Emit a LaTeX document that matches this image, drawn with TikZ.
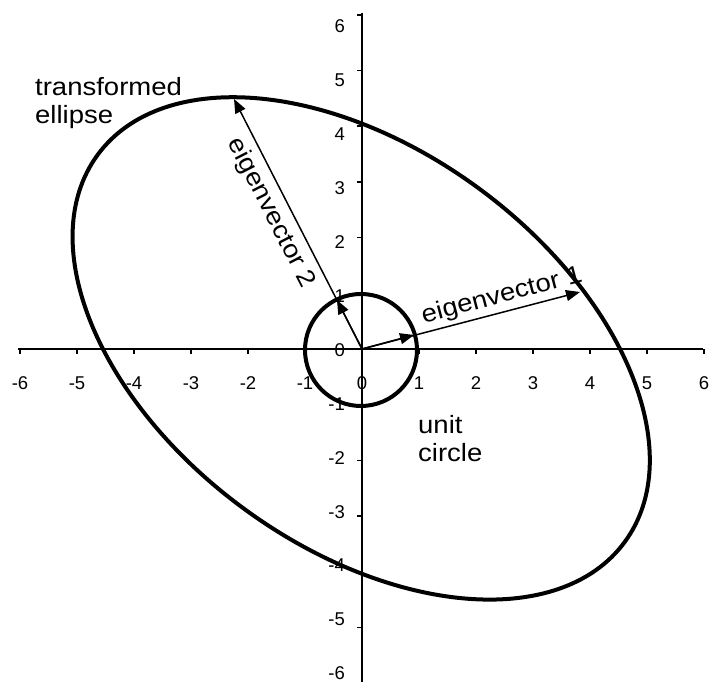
\documentclass[tikz,border=0pt]{standalone}
\usepackage{fontspec}
\setmainfont{Liberation Sans}
\newfontfamily\lblfont{Liberation Sans}[FakeStretch=1.1]
\usetikzlibrary{arrows.meta}
\begin{document}
\begin{tikzpicture}[x=1pt,y=1pt,
  axisline/.style={line width=2pt},
  tickmark/.style={line width=1.5pt},
  curve/.style={line width=4pt},
  vec/.style={line width=1.5pt,-{Triangle[length=14pt,width=11pt]}},
  ticklbl/.style={font=\fontsize{18.5}{20}\selectfont, inner sep=0pt},
  lbl/.style={font=\lblfont\fontsize{25}{28}\selectfont, inner sep=0pt, align=left}]
\useasboundingbox (-362,-333) rectangle (348,349);
\coordinate (O) at (0,0);
\coordinate (xl) at (-344,0);
\coordinate (xr) at (341,0);
\coordinate (yb) at (0,-334);
\coordinate (yt) at (0,336);
\draw[axisline] (xl) -- (xr);
\draw[axisline] (yb) -- (yt);
\foreach \k in {-6,...,6}{
  \draw[tickmark] (57*\k,0) -- ++(0,-5);
  \draw[tickmark] (0,55.7*\k) -- ++(-5,0);
  \node[ticklbl] at (57*\k,-34) {\k};
  \node[ticklbl,anchor=east] at (-17,53.9*\k-1) {\k};
}
% transformed ellipse and unit circle
\draw[curve,rotate=-36.3] (-1,0) ellipse [x radius=327pt, y radius=198.6pt];
\draw[curve] (-1,-1) circle [radius=56pt];
% eigenvectors
\coordinate (e1) at (218,57);
\coordinate (e1u) at (52,14);
\coordinate (e2) at (-128,250);
\coordinate (e2u) at (-25,49);
\draw[vec] (O) -- (e1);
\draw[vec] (O) -- (e1u);
\draw[vec] (O) -- (e2);
\draw[vec] (O) -- (e2u);
% labels
\node[lbl, anchor=north west] (te) at (-327,272) {transformed\\ellipse};
\node[lbl, anchor=north west] (uc) at (56,-66) {unit\\circle};
\node[lbl, rotate=14.8] (l1) at (140,53) {eigenvector 1};
\node[lbl, rotate=-62.8] (l2) at (-91,136) {eigenvector 2};
\end{tikzpicture}
\end{document}
